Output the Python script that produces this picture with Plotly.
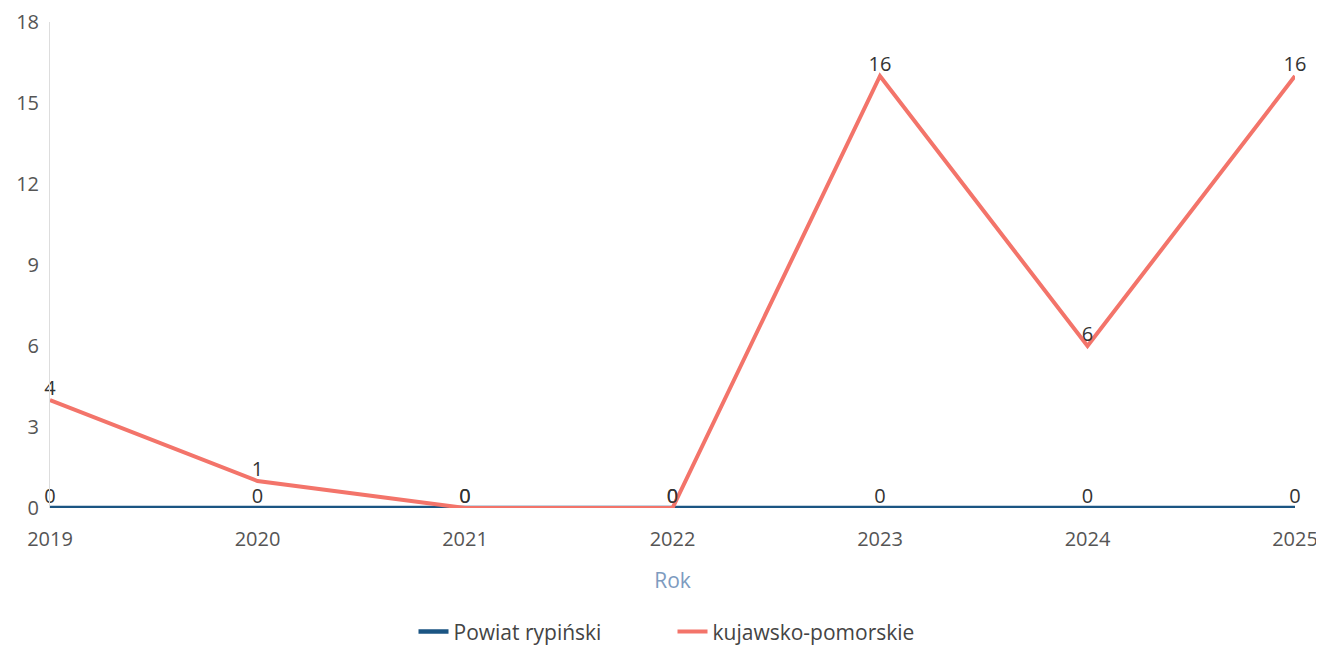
import plotly.graph_objects as go

years = [2019, 2020, 2021, 2022, 2023, 2024, 2025]
powiat = [0, 0, 0, 0, 0, 0, 0]
kujawsko = [4, 1, 0, 0, 16, 6, 16]
y_ticks = [0, 3, 6, 9, 12, 15, 18]

fig = go.Figure()
fig.add_trace(go.Scatter(
    x=years, y=powiat, name="Powiat rypiński", mode="lines+text",
    line=dict(color="#1b5583", width=4.5),
    text=[str(v) for v in powiat], textposition="top center",
    textfont=dict(size=20, color="#333333"), cliponaxis=False,
))
fig.add_trace(go.Scatter(
    x=years, y=kujawsko, name="kujawsko-pomorskie", mode="lines+text",
    line=dict(color="#f3746a", width=4),
    text=[str(v) for v in kujawsko], textposition="top center",
    textfont=dict(size=20, color="#333333"), cliponaxis=False,
))

fig.update_layout(
    width=1316, height=637,
    paper_bgcolor="white", plot_bgcolor="white",
    margin=dict(l=42, r=29, t=14, b=137, autoexpand=False),
    font=dict(family="Open Sans", size=20, color="#555555"),
    showlegend=True,
    legend=dict(orientation="h", x=0.5, xanchor="center", y=-0.255, yanchor="middle",
                font=dict(size=21, color="#444444"), entrywidth=214),
    xaxis=dict(
        range=[2019, 2025], tickmode="array", tickvals=years,
        ticktext=[str(y) for y in years], showgrid=False, zeroline=False,
        showline=False, tickfont=dict(size=20, color="#555555"), automargin=False,
        ticks="outside", ticklen=13, tickcolor="rgba(0,0,0,0)",
        title=dict(text="Rok", font=dict(size=21, color="#7d9bbf"), standoff=22),
    ),
    yaxis=dict(
        range=[0, 18], tickmode="array", tickvals=y_ticks, showgrid=False,
        zeroline=False, showline=True, linecolor="#dddddd", linewidth=1,
        tickfont=dict(size=20, color="#555555"), ticklabelstandoff=6, automargin=False,
    ),
)

fig.write_html("out.html")
